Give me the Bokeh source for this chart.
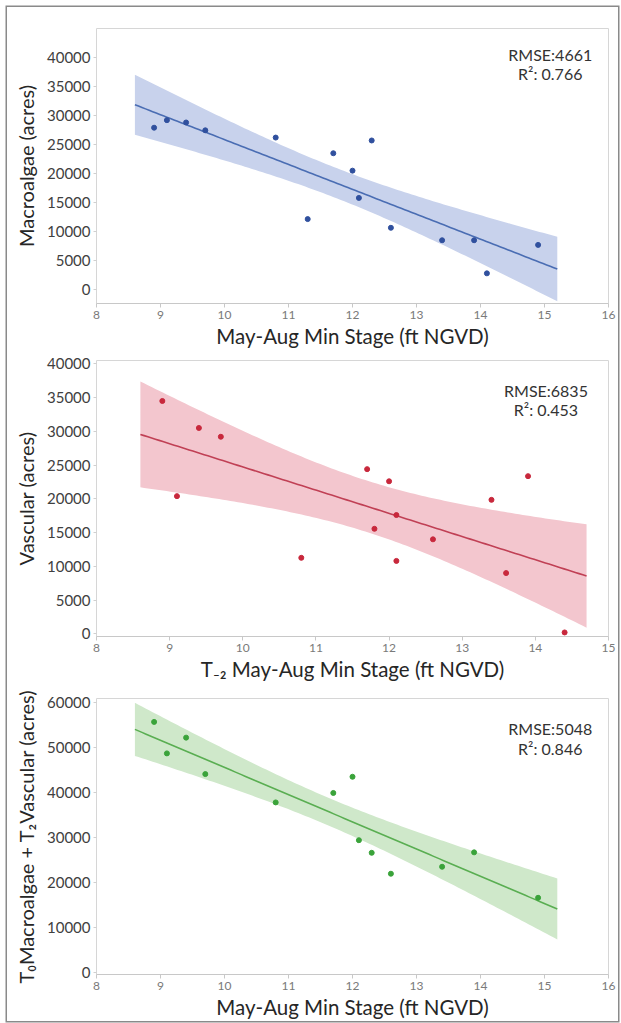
import numpy as np
from bokeh.plotting import figure
from bokeh.layouts import column
from bokeh.models import Label, FixedTicker, Range1d
from bokeh.embed import file_html
from bokeh.resources import INLINE

# ---------------- data ----------------
# Panel 1: Macroalgae vs May-Aug minimum stage
macro_stage = [8.9, 9.1, 9.4, 9.7, 10.8, 11.3, 11.7, 12.0, 12.1, 12.3, 12.6, 13.4, 13.9, 14.1, 14.9]
macro_acres = [27900, 29200, 28800, 27450, 26200, 12150, 23500, 20500, 15800, 25700,
               10650, 8500, 8500, 2800, 7700]
macro_rmse = 4661
macro_r2 = "0.766"

# Panel 2: Vascular vs T-2 May-Aug minimum stage
vasc_stage = [8.9, 9.1, 9.4, 9.7, 10.8, 11.7, 11.8, 12.0, 12.1, 12.1, 12.6, 13.4, 13.6, 13.9, 14.4]
vasc_acres = [34500, 20400, 30500, 29200, 11260, 24400, 15560, 22600, 17600, 10800,
              14000, 19850, 9000, 23360, 200]
vasc_rmse = 6835
vasc_r2 = "0.453"

# Panel 3: T0 Macroalgae + T2 Vascular vs May-Aug minimum stage
comb_stage = [8.9, 9.1, 9.4, 9.7, 10.8, 11.7, 12.0, 12.1, 12.3, 12.6, 13.4, 13.9, 14.9]
comb_acres = [55700, 48700, 52200, 44100, 37800, 39900, 43500, 29400, 26600, 21950,
              23500, 26700, 16600]
comb_rmse = 5048
comb_r2 = "0.846"

# tick labels
x_ticks_16 = [8, 9, 10, 11, 12, 13, 14, 15, 16]
x_ticks_15 = [8, 9, 10, 11, 12, 13, 14, 15]
y_ticks_40k = [0, 5000, 10000, 15000, 20000, 25000, 30000, 35000, 40000]
y_ticks_60k = [0, 10000, 20000, 30000, 40000, 50000, 60000]

# t critical values (95%, two sided)
t_crit = {13: 2.160, 11: 2.201}

FONT = "Lato"


def fit_band(stage, acres, rmse, ext=0.3):
    x = np.asarray(stage, float)
    y = np.asarray(acres, float)
    n = len(x)
    b, a = np.polyfit(x, y, 1)
    xs = np.linspace(x.min() - ext, x.max() + ext, 120)
    yhat = a + b * xs
    sxx = np.sum((x - x.mean()) ** 2)
    se = rmse * np.sqrt(1.0 / n + (xs - x.mean()) ** 2 / sxx)
    t = t_crit[n - 2]
    return xs, yhat, yhat - t * se, yhat + t * se


def make_panel(stage, acres, rmse, r2, pt_color, line_color, band_color,
               x_end, x_ticks, y_rng, y_ticks, xlabel, ylabel,
               height, mb_top, mb_bottom, lab_x, lab_y1, lab_y2):
    p = figure(width=611, height=height, output_backend="svg", toolbar_location=None,
               x_range=Range1d(8, x_end), y_range=Range1d(*y_rng),
               min_border_left=89, min_border_right=10,
               min_border_top=mb_top, min_border_bottom=mb_bottom)
    p.background_fill_color = "white"
    p.border_fill_color = "white"
    p.outline_line_color = "#d6d6d6"
    p.outline_line_width = 1
    p.xgrid.visible = False
    p.ygrid.visible = False

    xs, yhat, lo, hi = fit_band(stage, acres, rmse)
    p.varea(x=xs, y1=lo, y2=hi, fill_color=band_color, fill_alpha=1.0)
    p.line(xs, yhat, line_color=line_color, line_width=1.6)
    p.scatter(stage, acres, size=5, fill_color=pt_color, line_color=pt_color)

    p.xaxis.ticker = FixedTicker(ticks=x_ticks)
    p.yaxis.ticker = FixedTicker(ticks=y_ticks)
    p.xaxis.minor_tick_line_color = None
    p.yaxis.minor_tick_line_color = None

    p.xaxis.axis_line_color = "#c8c8c8"
    p.xaxis.major_tick_line_color = "#c8c8c8"
    p.xaxis.major_tick_out = 4
    p.xaxis.major_tick_in = 0
    p.xaxis.major_label_text_font = FONT
    p.xaxis.major_label_text_font_size = "12px"
    p.xaxis.major_label_text_color = "#7a7a7a"
    p.xaxis.major_label_standoff = 3
    p.xaxis.axis_label = xlabel
    p.xaxis.axis_label_text_font = FONT
    p.xaxis.axis_label_text_font_size = "20.5px"
    p.xaxis.axis_label_text_font_style = "normal"
    p.xaxis.axis_label_text_color = "#262626"
    p.xaxis.axis_label_standoff = 2

    p.yaxis.axis_line_color = None
    p.yaxis.major_tick_line_color = "#d0d0d0"
    p.yaxis.major_tick_out = 3
    p.yaxis.major_tick_in = 0
    p.yaxis.major_label_text_font = FONT
    p.yaxis.major_label_text_font_size = "15px"
    p.yaxis.major_label_text_color = "#404040"
    p.yaxis.major_label_standoff = 3
    p.yaxis.axis_label = ylabel
    p.yaxis.axis_label_text_font = FONT
    p.yaxis.axis_label_text_font_size = "20px"
    p.yaxis.axis_label_text_font_style = "normal"
    p.yaxis.axis_label_text_color = "#262626"
    p.yaxis.axis_label_standoff = 6

    for txt, yy in ((f"RMSE:{rmse}", lab_y1), (f"R\u00b2: {r2}", lab_y2)):
        p.add_layout(Label(x=lab_x, y=yy, text=txt, text_align="center",
                           text_baseline="middle", text_font=FONT,
                           text_font_size="16px", text_color="#333333"))
    return p


p1 = make_panel(macro_stage, macro_acres, macro_rmse, macro_r2,
                "#30509e", "#4a6db3", "#c8d2ec",
                16, x_ticks_16, (-2400, 45000), y_ticks_40k,
                "May-Aug Min Stage (ft NGVD)", "Macroalgae (acres)",
                343, 21, 46, 15.09, 40570, 37250)

p2 = make_panel(vasc_stage, vasc_acres, vasc_rmse, vasc_r2,
                "#c8283c", "#c04055", "#f3c6ce",
                15, x_ticks_15, (-400, 40500), y_ticks_40k,
                "T\u208b\u2082 May-Aug Min Stage (ft NGVD)", "Vascular (acres)",
                336, 10, 50, 14.145, 36040, 33230)

p3 = make_panel(comb_stage, comb_acres, comb_rmse, comb_r2,
                "#3aa33a", "#5aae52", "#cfe8ca",
                16, x_ticks_16, (-450, 60900), y_ticks_60k,
                "May-Aug Min Stage (ft NGVD)",
                "T\u2080Macroalgae + T\u2082Vascular (acres)",
                335, 12, 45, 15.09, 54210, 49800)

layout = column(p1, p2, p3, spacing=0, margin=(7, 0, 0, 7),
                styles={"box-shadow": "0 0 0 1.5px #8a8a8a"})

open("out.html", "w").write(file_html(layout, INLINE))
